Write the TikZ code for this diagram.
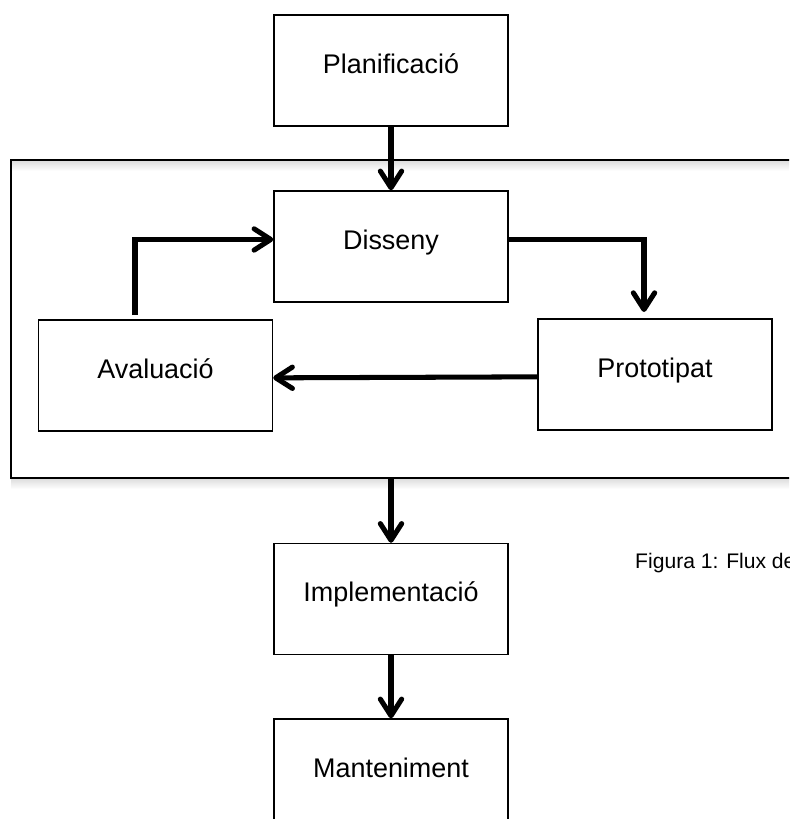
\documentclass[tikz,border=0pt]{standalone}
\usepackage{fontspec}
\setmainfont{Liberation Sans}
\usepackage{tikz}
\usetikzlibrary{arrows.meta}

\tikzset{
  stage/.style={draw, line width=1.2pt, minimum width=7.02cm, minimum height=3.33cm,
    inner sep=0pt, text height=0.74em, text depth=0.28em, font=\fontsize{23}{27}\selectfont},
  flow/.style={line width=4.3pt, -{Straight Barb[length=5mm,width=6.4mm,round]}},
}

\begin{document}
\begin{tikzpicture}[x=0.03cm, y=-0.03cm]
\useasboundingbox (0,0) rectangle (789,819);
\clip (0,0) rectangle (789,819);

% the box round the design loop, open on the right
\shade[top color=black!14, bottom color=white] (11,160) rectangle (805,171);
\shade[top color=black!14, bottom color=white] (11,478) rectangle (805,489);
\draw[line width=1.2pt] (11,160) rectangle (805,478);

\node[stage] (plan) at (391,70.5) {Planificació};
\node[stage] (dis) at (391,246.5) {Disseny};
\node[stage] (aval) at (155.5,375.5) {Avaluació};
\node[stage] (proto) at (655,374.5) {Prototipat};
\node[stage] (impl) at (391,599) {Implementació};
\node[stage] (mant) at (391,774.5) {Manteniment};

\node[anchor=west, inner sep=0pt, font=\fontsize{18}{22}\selectfont] (cap) at (635,563) {Figura 1: Flux de};

\coordinate (avalout) at (135,315);
\coordinate (protoin) at (644,312);
\coordinate (loopbot) at (391,478);

\draw[flow] (plan) -- (dis);
\draw[flow] (avalout) |- ([yshift=6pt]dis.west);
\draw[flow] ([yshift=6pt]dis.east) -| (protoin);
\draw[flow] ([yshift=-2pt]proto.west) -- ([yshift=-2pt]aval.east);
\draw[flow] (loopbot) -- (impl);
\draw[flow] (impl) -- (mant);
\end{tikzpicture}
\end{document}
